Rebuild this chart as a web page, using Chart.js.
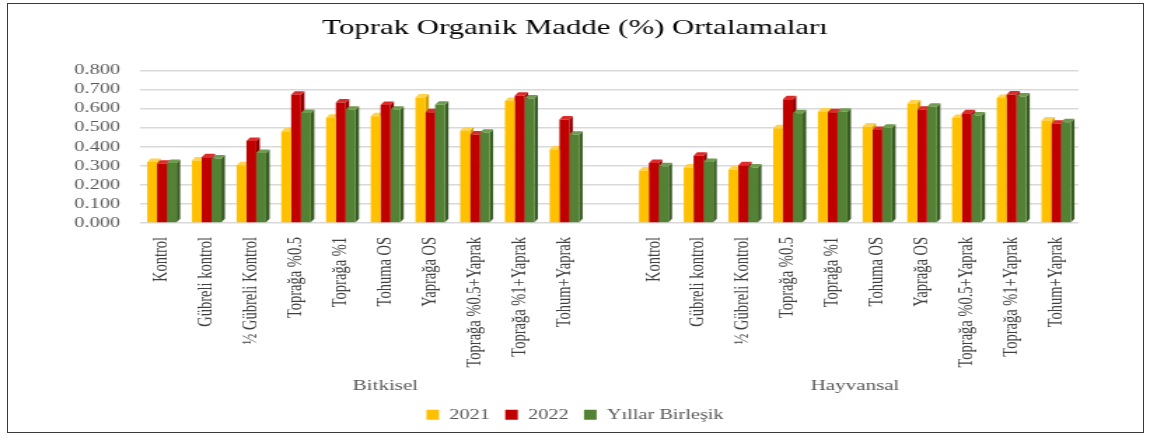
<!DOCTYPE html>
<html>
<head>
<meta charset="utf-8">
<script src="https://cdn.jsdelivr.net/npm/chart.js@4/dist/chart.umd.min.js"></script>
<style>
  body { margin: 0; background: #fff; overflow: hidden; }
  #wrap { position: relative; width: 1150px; height: 439px; overflow: hidden; }
  /* the original picture is stretched sideways, so the chart is drawn narrow and widened */
  #chart { position: absolute; left: 0; top: 0; width: 821px; height: 439px; transform: scaleX(1.40073); transform-origin: 0 0; }
  #frame { position: absolute; left: 7px; top: 3px; width: 1135px; height: 428px; border: 1px solid #3a3a3a; pointer-events: none; }
</style>
</head>
<body>
<div id="wrap">
  <canvas id="chart" width="821" height="439"></canvas>
  <div id="frame"></div>
</div>
<script>
const categories = ["Kontrol", "Gübreli kontrol", "½ Gübreli Kontrol", "Toprağa %0.5", "Toprağa %1",
  "Tohuma OS", "Yaprağa OS", "Toprağa %0.5+Yaprak", "Toprağa %1+Yaprak", "Tohum+Yaprak"];
const groups = ["Bitkisel", "Hayvansal"];
const seriesNames = ["2021", "2022", "Yıllar Birleşik"];

const bitkisel2021 = [0.320, 0.327, 0.303, 0.480, 0.552, 0.560, 0.658, 0.485, 0.640, 0.386];
const bitkisel2022 = [0.310, 0.345, 0.430, 0.672, 0.632, 0.618, 0.580, 0.464, 0.667, 0.542];
const bitkiselBirlesik = [0.315, 0.338, 0.367, 0.577, 0.594, 0.594, 0.620, 0.473, 0.653, 0.462];
const hayvansal2021 = [0.275, 0.291, 0.280, 0.497, 0.585, 0.506, 0.627, 0.551, 0.655, 0.537];
const hayvansal2022 = [0.315, 0.352, 0.303, 0.649, 0.580, 0.488, 0.594, 0.575, 0.674, 0.520];
const hayvansalBirlesik = [0.298, 0.320, 0.291, 0.575, 0.583, 0.499, 0.610, 0.563, 0.663, 0.528];

const colors = ["#FFC000", "#C00000", "#548235"];
const sideColors = ["#D29E00", "#8A0000", "#3A5C24"];
const topColors = ["#FFD34D", "#DD2A2A", "#6F9C4E"];

const FONT = "'Liberation Serif', 'Times New Roman', serif";
const GRAY = "#595959";

// Bitkisel gets an empty slot after it, like the Excel original
const labels = [...categories, "", ...categories];
const join = (a, b) => [...a, null, ...b];
const seriesData = [
  join(bitkisel2021, hayvansal2021),
  join(bitkisel2022, hayvansal2022),
  join(bitkiselBirlesik, hayvansalBirlesik)
];
const groupSpans = [[0, categories.length], [categories.length + 1, labels.length - 1]];

// fake 3d: side and top faces drawn behind the flat bars
const bars3d = {
  id: "bars3d",
  beforeDatasetsDraw(chart) {
    const ctx = chart.ctx;
    const dx = 2.5, dy = 3.5;
    chart.data.datasets.forEach((ds, i) => {
      const meta = chart.getDatasetMeta(i);
      meta.data.forEach((bar, j) => {
        if (ds.data[j] == null) return;
        const l = bar.x - bar.width / 2, r = bar.x + bar.width / 2;
        ctx.fillStyle = sideColors[i];
        ctx.beginPath();
        ctx.moveTo(r, bar.y); ctx.lineTo(r + dx, bar.y - dy);
        ctx.lineTo(r + dx, bar.base - dy); ctx.lineTo(r, bar.base);
        ctx.closePath(); ctx.fill();
        ctx.fillStyle = topColors[i];
        ctx.beginPath();
        ctx.moveTo(l, bar.y); ctx.lineTo(l + dx, bar.y - dy);
        ctx.lineTo(r + dx, bar.y - dy); ctx.lineTo(r, bar.y);
        ctx.closePath(); ctx.fill();
      });
    });
  }
};

const groupLabels = {
  id: "groupLabels",
  afterDraw(chart) {
    const ctx = chart.ctx;
    const x = chart.scales.x;
    ctx.save();
    ctx.font = "15px " + FONT;
    ctx.fillStyle = GRAY;
    ctx.textAlign = "center";
    ctx.textBaseline = "middle";
    groups.forEach((g, i) => {
      const cx = (x.getPixelForValue(groupSpans[i][0]) + x.getPixelForValue(groupSpans[i][1])) / 2;
      ctx.fillText(g, cx, x.bottom - 10);
    });
    ctx.restore();
  }
};

new Chart(document.getElementById("chart"), {
  type: "bar",
  data: {
    labels: labels,
    datasets: seriesNames.map((name, i) => ({
      label: name,
      data: seriesData[i],
      backgroundColor: colors[i],
      categoryPercentage: 0.66,
      barPercentage: 1.0
    }))
  },
  options: {
    responsive: false,
    animation: false,
    layout: { padding: { top: 2, left: 39, right: 39, bottom: 7 } },
    plugins: {
      title: {
        display: true,
        text: "Toprak Organik Madde (%) Ortalamaları",
        color: "#000",
        font: { family: FONT, size: 22, weight: "normal" },
        padding: { top: 13, bottom: 29 }
      },
      legend: {
        position: "bottom",
        labels: {
          color: GRAY,
          font: { family: FONT, size: 14.5 },
          boxWidth: 9,
          boxHeight: 10,
          padding: 11
        }
      },
      tooltip: { enabled: false }
    },
    scales: {
      x: {
        grid: { display: false },
        border: { display: false },
        ticks: {
          color: "#404040",
          font: { family: FONT, size: 14.5 },
          minRotation: 90,
          maxRotation: 90,
          autoSkip: false,
          padding: 6
        },
        afterFit: (scale) => { scale.height += 23; }
      },
      y: {
        min: 0,
        max: 0.8,
        border: { display: false },
        grid: { color: "#d9d9d9", lineWidth: 1.5, drawTicks: false },
        ticks: {
          stepSize: 0.1,
          autoSkip: false,
          color: GRAY,
          font: { family: FONT, size: 14.5 },
          padding: 14,
          callback: (v) => v.toFixed(3)
        }
      },
      // empty right-hand spacer so title and legend stay centred on the page
      spacer: {
        type: "linear",
        position: "right",
        grid: { display: false },
        border: { display: false },
        ticks: { display: false },
        afterFit: (scale) => { scale.width = 12; }
      }
    }
  },
  plugins: [bars3d, groupLabels]
});
</script>
</body>
</html>
